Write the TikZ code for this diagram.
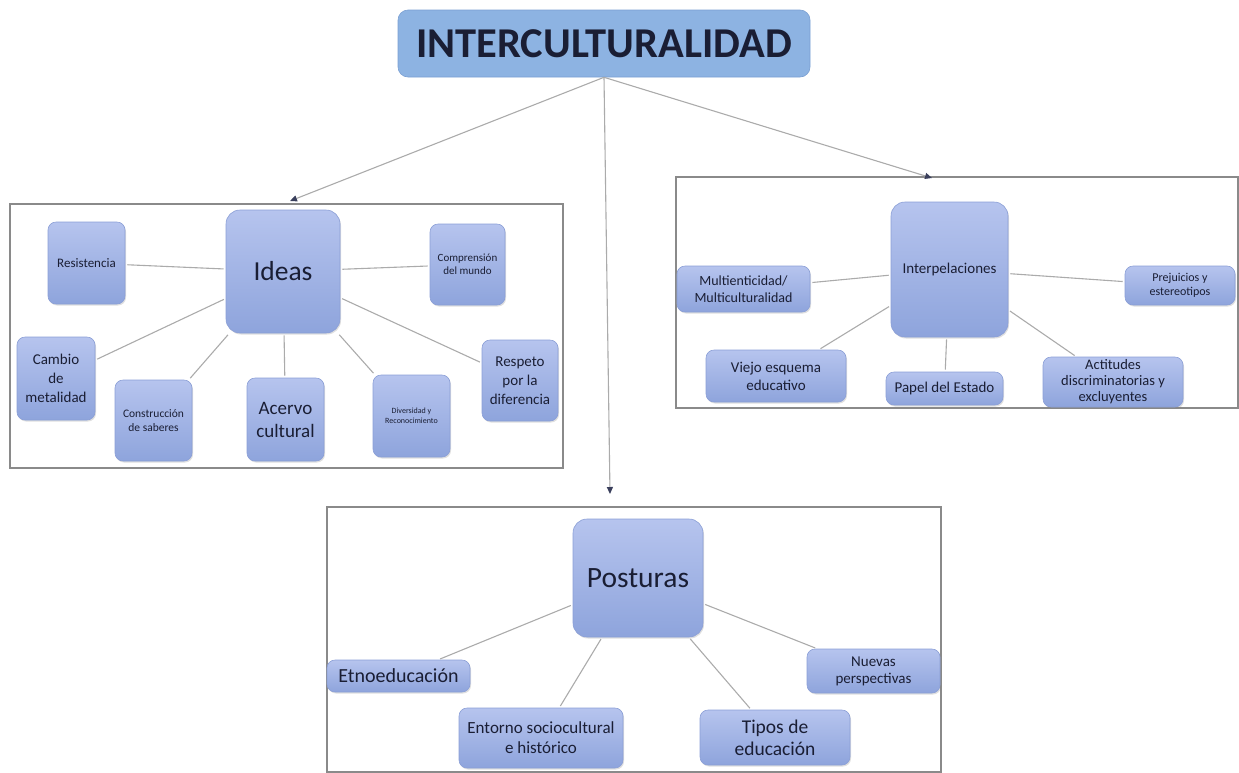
\documentclass[tikz,border=0pt]{standalone}
\usepackage{fontspec}
\setmainfont{Carlito}
\usetikzlibrary{arrows.meta,shadows}
\definecolor{titlefill}{HTML}{8DB3E2}
\definecolor{titleline}{HTML}{7A9FD2}
\definecolor{boxtop}{HTML}{B6C4EE}
\definecolor{boxbot}{HTML}{8EA4DC}
\definecolor{boxline}{HTML}{8B9FD6}
\definecolor{ink}{HTML}{1A1E34}
\definecolor{framegray}{HTML}{8A8A8A}
\definecolor{linegray}{HTML}{ABABAB}
\definecolor{tipcol}{HTML}{3A3F5C}
% size and baseline skip, in points
\newcommand{\fs}[2]{\fontsize{#1}{#2}\selectfont}
\begin{document}
\begin{tikzpicture}[x=1pt,y=-1pt,
  box/.style={rounded corners=8pt, draw=boxline, line width=0.6pt,
    top color=boxtop, bottom color=boxbot, align=center, text=ink,
    inner sep=1pt,
    drop shadow={opacity=0.25, shadow xshift=1pt, shadow yshift=-1.5pt}},
  hub/.style={box, rounded corners=14pt},
  frame/.style={draw=framegray, line width=1.2pt},
  link/.style={draw=linegray, line width=1.1pt, shorten <=2pt, shorten >=2pt},
  feed/.style={draw=linegray, line width=1.1pt,
    -{Triangle[length=7pt,width=6pt,color=tipcol]}}
]
\useasboundingbox (0,0) rectangle (1239,772);

% title
\node[draw=titleline, fill=titlefill, rounded corners=10pt, line width=0.6pt,
      minimum width=412pt, minimum height=67pt, text=ink,
      font=\fs{42.5}{50}\bfseries] (title) at (604,43.5) {INTERCULTURALIDAD};

% panel frames
\draw[frame] (10,204) rectangle (563,468);
\draw[frame] (676,177) rectangle (1238,408);
\draw[frame] (327,507) rectangle (941,772);

% feeders from the title into each panel
\coordinate (tipL) at (290,201);
\coordinate (tipM) at (610,494);
\coordinate (tipR) at (932,178);
\draw[feed] (title.south) -- (tipL);
\draw[feed] (title.south) -- (tipM);
\draw[feed] (title.south) -- (tipR);

% ---- Ideas panel
\node[hub, minimum width=114pt, minimum height=123pt, font=\fs{27.5}{32}] (ideas) at (283,271.5) {Ideas};
\node[box, minimum width=77pt, minimum height=82pt, font=\fs{13}{15}] (resist) at (86.5,263) {Resistencia};
\node[box, minimum width=75pt, minimum height=81pt, font=\fs{11}{13}] (compr) at (467.5,264.5) {Comprensión\\del mundo};
\node[box, minimum width=78pt, minimum height=83pt, font=\fs{15}{19}] (cambio) at (56,378.5) {Cambio\\de\\metalidad};
\node[box, minimum width=77pt, minimum height=81pt, font=\fs{11.5}{13.5}] (constr) at (153.5,420.5) {Construcción\\de saberes};
\node[box, minimum width=77pt, minimum height=83pt, font=\fs{19}{23}] (acervo) at (285.5,419.5) {Acervo\\cultural};
\node[box, minimum width=77pt, minimum height=82pt, font=\fs{8}{10}] (divers) at (411.5,416) {Diversidad y\\Reconocimiento};
\node[box, minimum width=76pt, minimum height=81pt, font=\fs{15}{19}] (respeto) at (520,380.5) {Respeto\\por la\\diferencia};
\foreach \n in {resist,compr,cambio,constr,acervo,divers,respeto}
  \draw[link] (ideas) -- (\n);

% ---- Interpelaciones panel
\node[hub, minimum width=117pt, minimum height=135pt, font=\fs{15}{18}] (interp) at (949.5,269.5) {Interpelaciones};
\node[box, minimum width=133pt, minimum height=46pt, font=\fs{14}{17}] (multi) at (743.5,289) {Multienticidad/\\Multiculturalidad};
\node[box, minimum width=110pt, minimum height=39pt, font=\fs{12}{14}] (prej) at (1180,285.5) {Prejuicios y\\estereotipos};
\node[box, minimum width=140pt, minimum height=52pt, font=\fs{15}{18}] (viejo) at (776,376) {Viejo esquema\\educativo};
\node[box, minimum width=117pt, minimum height=33pt, font=\fs{15}{18}] (papel) at (944.5,388.5) {Papel del Estado};
\node[box, minimum width=140pt, minimum height=50pt, font=\fs{14.5}{16}] (actit) at (1113,382) {Actitudes\\discriminatorias y\\excluyentes};
\foreach \n in {multi,prej,viejo,papel,actit}
  \draw[link] (interp) -- (\n);

% ---- Posturas panel
\node[hub, minimum width=130pt, minimum height=118pt, font=\fs{29.5}{34}] (post) at (638,578) {Posturas};
\node[box, minimum width=143pt, minimum height=32pt, font=\fs{20}{24}] (etno) at (398.5,676) {Etnoeducación};
\node[box, minimum width=133pt, minimum height=44pt, font=\fs{15}{17}] (nuevas) at (873.5,671) {Nuevas\\perspectivas};
\node[box, minimum width=164pt, minimum height=60pt, font=\fs{17}{20}] (entorno) at (541,738) {Entorno sociocultural\\e histórico};
\node[box, minimum width=150pt, minimum height=55pt, font=\fs{19.5}{22}] (tipos) at (775,737.5) {Tipos de\\educación};
\foreach \n in {etno,nuevas,entorno,tipos}
  \draw[link] (post) -- (\n);
\end{tikzpicture}
\end{document}
